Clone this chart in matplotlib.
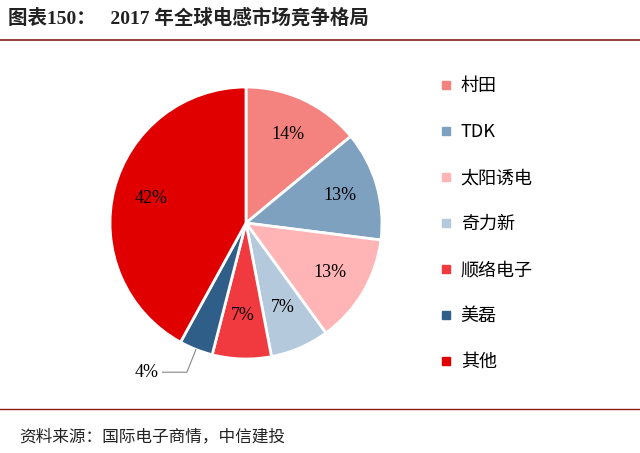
import matplotlib.pyplot as plt
from matplotlib.lines import Line2D
import numpy as np

plt.rcParams['font.family'] = ['Noto Sans CJK SC', 'DejaVu Sans']

labels = ['村田', 'TDK', '太阳诱电', '奇力新', '顺络电子', '美磊', '其他']
shares = [14, 13, 13, 7, 7, 4, 42]
colors = ['#F4837F', '#7EA1C0', '#FFB5B5', '#B5C9DC', '#F03A3F', '#2F5E88', '#E00000']

fig = plt.figure(figsize=(6.4, 4.53), dpi=100)

# title and rules
fig.text(0.012, 0.96, '图表150：   2017 年全球电感市场竞争格局', fontsize=14,
         fontweight='bold', va='center', color='#222222', family=['Liberation Serif', 'Noto Sans CJK SC'])
fig.add_artist(Line2D([0.0, 1.0], [0.912, 0.912], color='#8B1A1A', lw=1.2))
fig.add_artist(Line2D([0.0, 1.0], [0.097, 0.097], color='#8B1A1A', lw=1.0))
fig.text(0.03, 0.035, '资料来源：国际电子商情，中信建投', fontsize=12,
         va='center', color='#222222')

r_px = 136
cx, cy = 246, 223
ax = fig.add_axes([(cx - r_px) / 640, 1 - (cy + r_px) / 453, 2 * r_px / 640, 2 * r_px / 453])
wedges, texts = ax.pie(shares, colors=colors, startangle=90, counterclock=False,
                       wedgeprops=dict(edgecolor='white', linewidth=2))
for w, v in zip(wedges, shares):
    mid = np.deg2rad((w.theta1 + w.theta2) / 2)
    if v == 4:
        x, y = np.cos(mid), np.sin(mid)
        ax.plot([x * 1.0, x * 1.18, x * 1.18 - 0.18], [y * 1.0, y * 1.18, y * 1.18],
                color='#888888', lw=0.8, clip_on=False)
        ax.text(x * 1.18 - 0.21, y * 1.18, '4%', ha='right', va='center', fontsize=13,
                family=['Liberation Serif'])
    else:
        r = 0.72 if v > 10 else 0.68
        ax.text(r * np.cos(mid), r * np.sin(mid), f'{v}%', ha='center', va='center',
                fontsize=13, family=['Liberation Serif'])
ax.set_xlim(-1, 1)
ax.set_ylim(-1, 1)
ax.set_aspect('equal')

handles = [Line2D([], [], marker='s', ls='', color=c, markersize=6) for c in colors]
fig.legend(handles, labels, loc='center left', bbox_to_anchor=(0.655, 0.505), frameon=False,
           labelspacing=1.55, handletextpad=0.2, handlelength=1.2,
           prop={'family': ['Noto Sans CJK SC', 'Liberation Serif'], 'size': 13})

fig.savefig('out.png', dpi=100)
